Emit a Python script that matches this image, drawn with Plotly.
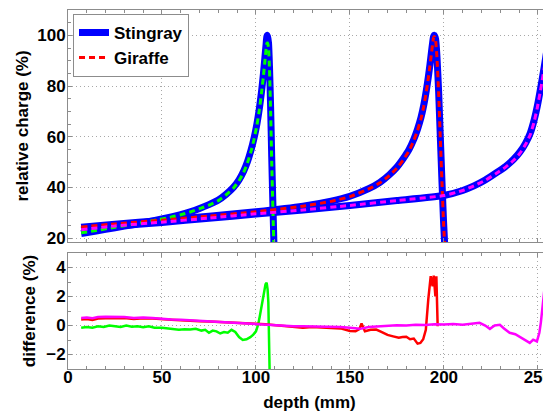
import plotly.graph_objects as go
from plotly.subplots import make_subplots

# depth-dose curves (top panel), one array per beam
depth_b1 = [7, 15, 25, 35, 45, 55, 60, 65, 70, 75, 80, 84, 88, 91, 93.5, 95.5, 97.3, 99, 100.5, 101.8, 103, 104, 104.8,
            105.4, 105.8, 106.2, 106.7, 107.2, 107.8, 108.4, 109, 109.6]
stingray_b1 = [21.8, 22.8, 24.1, 25.4, 26.8, 28.4, 29.3, 30.4, 31.7, 33.2, 35.0, 37.2, 40.0, 43.0, 46.5, 50.2, 54.5,
               59.5, 65, 71, 78, 85, 91.5, 96.5, 99.5, 100, 97, 88, 72, 52, 34, 17]
giraffe_b1 = [22.1, 23.0, 24.3, 25.5, 26.9, 28.3, 29.2, 30.3, 31.6, 33.0, 34.8, 37.0, 39.7, 42.6, 46.0, 49.7, 54.0,
              59.0, 64.5, 70.5, 77.5, 84, 90, 94.5, 96.8, 97, 95, 87, 70, 50, 32, 15]

depth_b2 = [7, 25, 50, 75, 100, 125, 140, 150, 160, 166, 171, 175, 178.5, 181.5, 184, 186, 187.8, 189.3, 190.6, 191.7,
            192.6, 193.4, 194, 194.5, 195, 195.6, 196.3, 197.2, 198.1, 199, 199.8, 200.6]
stingray_b2 = [24.3, 25.5, 27.0, 28.6, 30.4, 32.6, 34.6, 36.5, 39.5, 42.0, 45.0, 48.0, 51.5, 55.0, 59.0, 63.0, 67.5,
               72.5, 78, 83.5, 88.5, 93.5, 97, 99.5, 100, 98.5, 92, 78, 60, 42, 27, 15]
giraffe_b2 = [24.4, 25.6, 27.1, 28.7, 30.4, 32.6, 34.5, 36.4, 39.4, 41.8, 44.7, 47.6, 51.0, 54.5, 58.5, 62.5, 67.0,
              72.0, 77.5, 83, 88, 93, 96.5, 99, 99.5, 98, 91.5, 77.5, 59.5, 41.5, 26.5, 14.5]

depth_b3 = [7, 25, 50, 75, 100, 125, 150, 175, 200, 210, 216, 222, 228, 233, 237, 240.5, 243.5, 246, 248, 249.7,
            251.2, 252.6, 253.8, 255, 256.2, 257.5]
stingray_b3 = [23.2, 24.7, 26.2, 27.8, 29.5, 31.1, 32.9, 34.8, 36.8, 38.8, 40.6, 42.9, 45.8, 48.4, 51.0, 54.0, 57.5,
               61.5, 66.5, 72, 78, 84, 89.5, 95, 99.5, 103]
giraffe_b3 = [23.3, 24.8, 26.3, 27.9, 29.6, 31.1, 32.9, 34.8, 36.8, 38.8, 40.6, 42.8, 45.6, 48.1, 50.6, 53.5, 57.0,
              60.9, 65.8, 71.4, 77.4, 83.5, 89, 94.7, 99.6, 103.5]

# difference curves (bottom panel)
depth_d1 = [7, 10, 13, 16, 19, 22, 25, 28, 31, 34, 37, 40, 43, 46, 50, 53, 56, 59, 62, 65, 68, 71, 73, 75, 77, 79, 81, 83,
            85, 87, 89, 91, 93, 95, 97, 98.6, 100, 101.2, 102, 103, 103.9, 105.1, 105.7, 106.2, 106.6, 107, 107.4]
diff_b1 = [-0.16, -0.1, -0.15, -0.05, -0.1, 0.0, -0.05, -0.1, 0.0, -0.08, -0.05, -0.12, -0.05, -0.15, -0.15, -0.2, -0.2,
           -0.3, -0.25, -0.28, -0.22, -0.35, -0.3, -0.5, -0.35, -0.4, -0.55, -0.45, -0.5, -0.3, -0.45, -0.8, -1.0, -0.95,
           -0.8, -0.63, -0.4, 0.07, 0.6, 1.4, 2.04, 2.85, 2.95, 2.5, 1.6, -1.0, -4.0]

depth_d2 = [7, 10, 13, 16, 20, 25, 30, 35, 40, 45, 50, 55, 60, 65, 70, 75, 80, 85, 90, 95, 100, 105, 110, 115, 120, 125,
            130, 135, 140, 145, 150, 153, 155, 156.2, 157, 158, 161, 164, 167, 170, 173, 176, 178, 180, 182, 184, 186,
            187.5, 189, 190.4, 191.7, 193, 194, 194.6, 195.5, 196, 196.7]
diff_b2 = [0.42, 0.45, 0.38, 0.48, 0.5, 0.5, 0.52, 0.45, 0.5, 0.48, 0.42, 0.4, 0.36, 0.35, 0.3, 0.27, 0.25, 0.22, 0.2,
           0.16, 0.12, 0.08, 0.03, -0.05, -0.12, -0.15, -0.1, -0.12, -0.15, -0.2, -0.38, -0.4, -0.25, 0.14, -0.1, -0.4,
           -0.3, -0.28, -0.45, -0.65, -0.75, -0.85, -0.8, -0.78, -0.95, -0.9, -1.25, -1.2, -0.95, -0.3, 1.8, 3.4, 2.7,
           3.45, 2.0, 3.4, -0.05]

depth_d3 = [7, 10, 13, 16, 20, 25, 30, 35, 40, 45, 50, 55, 60, 65, 70, 75, 80, 85, 90, 95, 100, 105, 110, 115, 120, 125,
            130, 135, 140, 145, 150, 155.5, 160, 165, 170, 175, 180, 185, 190, 195, 200, 205, 210, 215, 219, 222, 224.5,
            227, 229.8, 232, 235, 238, 240.4, 243, 245.7, 247.5, 249.5, 250.8, 251.6, 253.5, 255.5, 256.8]
diff_b3 = [0.52, 0.55, 0.5, 0.58, 0.6, 0.6, 0.58, 0.52, 0.55, 0.52, 0.46, 0.42, 0.4, 0.36, 0.32, 0.3, 0.27, 0.24, 0.2,
           0.16, 0.1, 0.05, 0.02, -0.03, -0.05, -0.05, -0.05, -0.05, -0.08, -0.1, -0.15, -0.23, -0.1, -0.05, 0.0, 0.02,
           0.0, 0.05, 0.03, 0.08, 0.07, 0.1, 0.05, 0.12, 0.19, 0.0, -0.23, 0.0, 0.05, -0.2, -0.5, -0.6, -0.79, -0.95,
           -1.2, -0.98, -1.1, -0.5, 0.2, 2.5, 4.4, 5.5]

BLUE = '#0000FF'
colors = ['#00FF00', '#FF0000', '#FF00FF']

fig = make_subplots(rows=2, cols=1, shared_xaxes=True)

beams = [(depth_b1, stingray_b1, giraffe_b1), (depth_b2, stingray_b2, giraffe_b2), (depth_b3, stingray_b3, giraffe_b3)]
for i, (d, s, g) in enumerate(beams):
    fig.add_trace(go.Scatter(x=d, y=s, mode='lines', name='Stingray', line=dict(color=BLUE, width=7, shape='spline', smoothing=0.5),
                             showlegend=(i == 0), legendrank=1), row=1, col=1)
for i, (d, s, g) in enumerate(beams):
    fig.add_trace(go.Scatter(x=d, y=g, mode='lines', name='Giraffe',
                             line=dict(color=colors[i], width=3, dash='6px,4px', shape='spline', smoothing=0.5),
                             showlegend=(i == 1), legendrank=2), row=1, col=1)

for d, v, c in [(depth_d1, diff_b1, colors[0]), (depth_d2, diff_b2, colors[1]), (depth_d3, diff_b3, colors[2])]:
    fig.add_trace(go.Scatter(x=d, y=v, mode='lines', line=dict(color=c, width=2.5), showlegend=False), row=2, col=1)

font = dict(family='Liberation Sans, Arial', size=17, color='black', weight='bold')
axis_style = dict(showline=True, linecolor='#8c8c8c', linewidth=1, mirror='allticks', ticks='inside', ticklen=4,
                  tickcolor='#8c8c8c', showgrid=True, gridcolor='#a8a8a8', griddash='1px,3px', gridwidth=1,
                  zeroline=False, tickfont=font, automargin=False)

fig.update_xaxes(range=[0, 257], dtick=50, minor=dict(dtick=10, ticks='inside', ticklen=3, tickcolor='#8c8c8c'),
                 **axis_style)
fig.update_xaxes(title=dict(text='depth (mm)', font=font, standoff=9), ticklabelstandoff=-7, row=2, col=1)
fig.update_yaxes(ticklabelstandoff=-2, **axis_style)
fig.update_yaxes(range=[18.5, 110], tickvals=[20, 40, 60, 80, 100],
                 minor=dict(dtick=5, ticks='inside', ticklen=3, tickcolor='#8c8c8c'),
                 title=dict(text='relative charge (%)', font=font, standoff=4), domain=[0.354, 1], row=1, col=1)
fig.update_yaxes(range=[-3, 5], tickvals=[-2, 0, 2, 4],
                 minor=dict(dtick=1, ticks='inside', ticklen=3, tickcolor='#8c8c8c'),
                 title=dict(text='difference (%)', font=font, standoff=6), domain=[0, 0.323], row=2, col=1)

# page body adds an 8px offset; the plot area ends at the window's right edge
fig.update_layout(
    width=551, height=404,
    margin=dict(l=60, r=8, t=2, b=43),
    paper_bgcolor='white', plot_bgcolor='white',
    font=font,
    legend=dict(x=0.0104, y=0.989, xanchor='left', yanchor='top', bgcolor='white', bordercolor='#8c8c8c',
                borderwidth=1, font=font, tracegroupgap=0, itemwidth=30),
)

fig.write_html("out.html")
